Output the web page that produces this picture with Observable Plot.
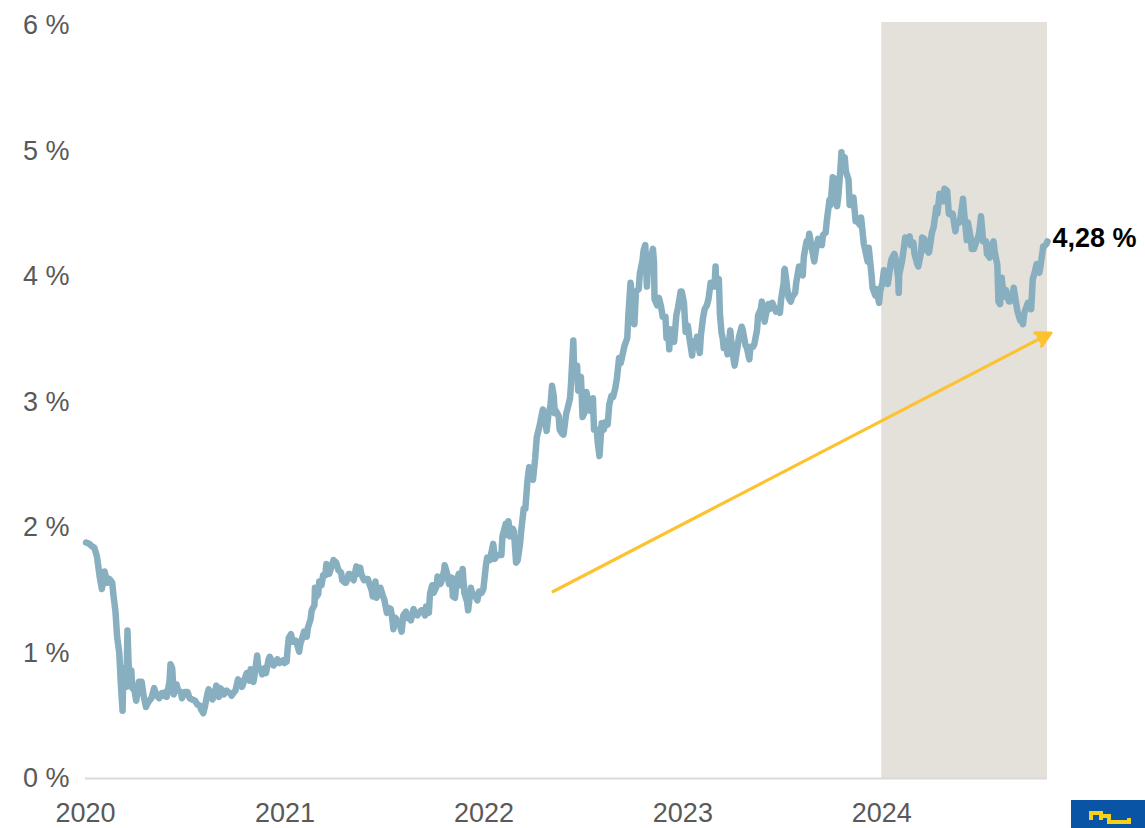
<!DOCTYPE html>
<html><head><meta charset="utf-8">
<script src="https://cdn.jsdelivr.net/npm/d3@7"></script>
<script src="https://cdn.jsdelivr.net/npm/@observablehq/plot@0.6"></script>
<style>
body{margin:0;background:#fff;}
#chart{position:relative;width:1145px;height:828px;overflow:hidden;}
#logo{position:absolute;left:1071px;top:800px;width:80px;height:30px;}
</style>
</head><body><div id="chart"></div>
<script>
// US 10-year yield, % (date, value)
const y2020 = [["2020-01-02",1.88],["2020-01-08",1.87],["2020-01-13",1.85],["2020-01-17",1.84],["2020-01-22",1.77],["2020-01-27",1.61],["2020-01-31",1.51],["2020-02-05",1.65],["2020-02-10",1.56],["2020-02-14",1.59],["2020-02-19",1.56],["2020-02-21",1.47],["2020-02-25",1.33],["2020-02-28",1.13],["2020-03-03",1.00],["2020-03-06",0.74],["2020-03-09",0.54],["2020-03-10",0.76],["2020-03-12",0.88],["2020-03-16",0.73],["2020-03-18",1.18],["2020-03-20",0.92],["2020-03-23",0.76],["2020-03-25",0.86],["2020-03-27",0.72],["2020-03-31",0.70],["2020-04-03",0.62],["2020-04-08",0.77],["2020-04-13",0.77],["2020-04-17",0.65],["2020-04-21",0.57],["2020-04-24",0.60],["2020-04-29",0.63],["2020-05-01",0.64],["2020-05-06",0.72],["2020-05-08",0.69],["2020-05-13",0.65],["2020-05-15",0.64],["2020-05-20",0.68],["2020-05-22",0.66],["2020-05-27",0.69],["2020-05-29",0.65],["2020-06-03",0.77],["2020-06-05",0.91],["2020-06-08",0.88],["2020-06-11",0.67],["2020-06-16",0.75],["2020-06-19",0.70],["2020-06-24",0.69],["2020-06-26",0.64],["2020-07-01",0.69],["2020-07-06",0.69],["2020-07-10",0.64],["2020-07-15",0.63],["2020-07-20",0.62],["2020-07-24",0.59],["2020-07-29",0.58],["2020-07-31",0.55],["2020-08-04",0.52],["2020-08-07",0.57],["2020-08-12",0.68],["2020-08-14",0.71],["2020-08-19",0.68],["2020-08-21",0.63],["2020-08-26",0.69],["2020-08-28",0.74],["2020-09-02",0.65],["2020-09-04",0.72],["2020-09-09",0.70],["2020-09-11",0.67],["2020-09-16",0.70],["2020-09-18",0.69],["2020-09-23",0.68],["2020-09-25",0.66],["2020-09-30",0.69],["2020-10-02",0.70],["2020-10-07",0.79],["2020-10-09",0.78],["2020-10-14",0.73],["2020-10-16",0.75],["2020-10-21",0.82],["2020-10-23",0.84],["2020-10-28",0.78],["2020-10-30",0.87],["2020-11-04",0.77],["2020-11-06",0.82],["2020-11-11",0.98],["2020-11-13",0.89],["2020-11-18",0.87],["2020-11-20",0.83],["2020-11-25",0.88],["2020-11-27",0.84],["2020-12-02",0.95],["2020-12-04",0.97],["2020-12-09",0.93],["2020-12-11",0.90],["2020-12-16",0.93],["2020-12-18",0.95],["2020-12-22",0.92],["2020-12-28",0.94],["2020-12-31",0.92]];
const y2021 = [["2021-01-04",0.93],["2021-01-06",1.04],["2021-01-08",1.12],["2021-01-12",1.15],["2021-01-15",1.09],["2021-01-20",1.10],["2021-01-22",1.09],["2021-01-27",1.01],["2021-01-29",1.07],["2021-02-03",1.14],["2021-02-05",1.17],["2021-02-10",1.13],["2021-02-12",1.20],["2021-02-17",1.27],["2021-02-19",1.34],["2021-02-24",1.38],["2021-02-25",1.52],["2021-02-26",1.44],["2021-03-03",1.47],["2021-03-05",1.57],["2021-03-09",1.54],["2021-03-12",1.62],["2021-03-16",1.62],["2021-03-18",1.71],["2021-03-23",1.63],["2021-03-26",1.67],["2021-03-31",1.74],["2021-04-05",1.72],["2021-04-09",1.66],["2021-04-14",1.64],["2021-04-16",1.58],["2021-04-21",1.56],["2021-04-23",1.56],["2021-04-28",1.63],["2021-04-30",1.63],["2021-05-05",1.59],["2021-05-07",1.58],["2021-05-12",1.69],["2021-05-14",1.63],["2021-05-19",1.68],["2021-05-21",1.63],["2021-05-26",1.58],["2021-05-28",1.59],["2021-06-02",1.59],["2021-06-04",1.56],["2021-06-09",1.50],["2021-06-11",1.45],["2021-06-16",1.57],["2021-06-18",1.44],["2021-06-23",1.48],["2021-06-25",1.52],["2021-06-30",1.45],["2021-07-02",1.43],["2021-07-07",1.32],["2021-07-09",1.36],["2021-07-14",1.35],["2021-07-16",1.30],["2021-07-19",1.19],["2021-07-23",1.28],["2021-07-28",1.23],["2021-07-30",1.24],["2021-08-03",1.17],["2021-08-06",1.30],["2021-08-11",1.33],["2021-08-13",1.28],["2021-08-18",1.27],["2021-08-20",1.26],["2021-08-25",1.35],["2021-08-27",1.31],["2021-09-01",1.30],["2021-09-03",1.32],["2021-09-08",1.34],["2021-09-10",1.34],["2021-09-15",1.30],["2021-09-17",1.37],["2021-09-22",1.32],["2021-09-24",1.47],["2021-09-28",1.54],["2021-10-01",1.48],["2021-10-06",1.53],["2021-10-08",1.61],["2021-10-13",1.55],["2021-10-15",1.57],["2021-10-20",1.66],["2021-10-21",1.70],["2021-10-25",1.64],["2021-10-29",1.55],["2021-11-03",1.60],["2021-11-05",1.45],["2021-11-09",1.44],["2021-11-12",1.58],["2021-11-16",1.63],["2021-11-19",1.54],["2021-11-23",1.67],["2021-11-26",1.48],["2021-12-01",1.41],["2021-12-03",1.34],["2021-12-08",1.52],["2021-12-10",1.48],["2021-12-15",1.46],["2021-12-20",1.42],["2021-12-23",1.49],["2021-12-28",1.48],["2021-12-31",1.51]];
const y2022 = [["2022-01-03",1.63],["2022-01-05",1.71],["2022-01-07",1.76],["2022-01-12",1.74],["2022-01-18",1.87],["2022-01-21",1.75],["2022-01-25",1.78],["2022-01-28",1.78],["2022-02-02",1.78],["2022-02-04",1.93],["2022-02-10",2.03],["2022-02-11",1.94],["2022-02-15",2.05],["2022-02-18",1.93],["2022-02-23",1.99],["2022-02-25",1.97],["2022-03-01",1.72],["2022-03-04",1.74],["2022-03-08",1.86],["2022-03-11",2.00],["2022-03-15",2.15],["2022-03-18",2.15],["2022-03-22",2.38],["2022-03-25",2.48],["2022-03-29",2.40],["2022-04-01",2.38],["2022-04-05",2.55],["2022-04-08",2.72],["2022-04-12",2.79],["2022-04-14",2.83],["2022-04-19",2.94],["2022-04-22",2.90],["2022-04-26",2.77],["2022-04-29",2.89],["2022-05-03",2.97],["2022-05-06",3.13],["2022-05-09",3.05],["2022-05-11",2.91],["2022-05-13",2.93],["2022-05-18",2.89],["2022-05-20",2.78],["2022-05-24",2.75],["2022-05-27",2.74],["2022-06-01",2.91],["2022-06-03",2.94],["2022-06-08",3.03],["2022-06-10",3.16],["2022-06-14",3.49],["2022-06-16",3.20],["2022-06-17",3.23],["2022-06-21",3.29],["2022-06-23",3.09],["2022-06-24",3.13],["2022-06-28",3.20],["2022-07-01",2.88],["2022-07-06",2.93],["2022-07-08",3.08],["2022-07-13",2.96],["2022-07-15",2.93],["2022-07-20",3.03],["2022-07-22",2.78],["2022-07-27",2.78],["2022-07-29",2.67],["2022-08-01",2.57],["2022-08-05",2.83],["2022-08-09",2.78],["2022-08-12",2.84],["2022-08-16",2.82],["2022-08-19",2.98],["2022-08-23",3.05],["2022-08-26",3.04],["2022-08-30",3.11],["2022-09-02",3.19],["2022-09-06",3.35],["2022-09-09",3.31],["2022-09-14",3.41],["2022-09-16",3.45],["2022-09-21",3.51],["2022-09-23",3.69],["2022-09-27",3.95],["2022-09-30",3.83],["2022-10-04",3.62],["2022-10-07",3.88],["2022-10-12",3.90],["2022-10-14",4.02],["2022-10-19",4.13],["2022-10-21",4.21],["2022-10-24",4.25],["2022-10-27",3.92],["2022-10-28",4.01],["2022-11-02",4.10],["2022-11-04",4.16],["2022-11-07",4.22],["2022-11-09",4.12],["2022-11-10",3.82],["2022-11-15",3.77],["2022-11-18",3.83],["2022-11-22",3.76],["2022-11-25",3.68],["2022-11-30",3.68],["2022-12-02",3.51],["2022-12-06",3.51],["2022-12-07",3.42],["2022-12-09",3.58],["2022-12-13",3.50],["2022-12-16",3.48],["2022-12-20",3.69],["2022-12-23",3.75],["2022-12-28",3.88],["2022-12-30",3.88]];
const y2023 = [["2023-01-03",3.79],["2023-01-06",3.56],["2023-01-10",3.61],["2023-01-13",3.51],["2023-01-18",3.37],["2023-01-20",3.48],["2023-01-25",3.46],["2023-01-27",3.52],["2023-02-01",3.39],["2023-02-03",3.53],["2023-02-07",3.67],["2023-02-10",3.74],["2023-02-14",3.77],["2023-02-17",3.82],["2023-02-21",3.95],["2023-02-24",3.95],["2023-02-28",3.92],["2023-03-02",4.08],["2023-03-03",3.95],["2023-03-08",3.98],["2023-03-10",3.70],["2023-03-13",3.55],["2023-03-15",3.51],["2023-03-17",3.43],["2023-03-22",3.44],["2023-03-24",3.38],["2023-03-29",3.57],["2023-03-31",3.48],["2023-04-05",3.31],["2023-04-06",3.29],["2023-04-11",3.43],["2023-04-14",3.52],["2023-04-19",3.60],["2023-04-21",3.57],["2023-04-26",3.45],["2023-04-28",3.44],["2023-05-03",3.34],["2023-05-05",3.44],["2023-05-10",3.44],["2023-05-12",3.46],["2023-05-17",3.57],["2023-05-19",3.69],["2023-05-24",3.74],["2023-05-26",3.80],["2023-05-31",3.64],["2023-06-02",3.69],["2023-06-07",3.78],["2023-06-09",3.74],["2023-06-14",3.79],["2023-06-16",3.77],["2023-06-21",3.72],["2023-06-23",3.74],["2023-06-28",3.71],["2023-06-30",3.81],["2023-07-05",3.95],["2023-07-06",4.05],["2023-07-07",4.06],["2023-07-12",3.89],["2023-07-14",3.83],["2023-07-18",3.80],["2023-07-21",3.84],["2023-07-26",3.87],["2023-07-28",3.95],["2023-08-02",4.08],["2023-08-04",4.03],["2023-08-09",4.01],["2023-08-11",4.16],["2023-08-16",4.28],["2023-08-18",4.25],["2023-08-21",4.34],["2023-08-25",4.24],["2023-08-30",4.12],["2023-09-01",4.18],["2023-09-06",4.30],["2023-09-08",4.26],["2023-09-13",4.25],["2023-09-15",4.33],["2023-09-20",4.35],["2023-09-22",4.44],["2023-09-27",4.61],["2023-09-29",4.57],["2023-10-03",4.79],["2023-10-06",4.78],["2023-10-11",4.56],["2023-10-13",4.63],["2023-10-17",4.85],["2023-10-19",4.99],["2023-10-20",4.91],["2023-10-23",4.86],["2023-10-25",4.95],["2023-10-27",4.84],["2023-11-01",4.77],["2023-11-03",4.57],["2023-11-07",4.57],["2023-11-10",4.63],["2023-11-14",4.44],["2023-11-17",4.44],["2023-11-22",4.41],["2023-11-24",4.47],["2023-11-29",4.26],["2023-12-01",4.22],["2023-12-06",4.12],["2023-12-08",4.23],["2023-12-13",4.02],["2023-12-15",3.91],["2023-12-20",3.85],["2023-12-22",3.90],["2023-12-27",3.79],["2023-12-29",3.88]];
const y2024 = [["2024-01-02",3.95],["2024-01-05",4.05],["2024-01-09",4.02],["2024-01-12",3.94],["2024-01-17",4.10],["2024-01-19",4.14],["2024-01-24",4.18],["2024-01-26",4.15],["2024-01-31",3.99],["2024-02-01",3.87],["2024-02-02",4.02],["2024-02-07",4.12],["2024-02-09",4.18],["2024-02-13",4.31],["2024-02-16",4.28],["2024-02-21",4.32],["2024-02-23",4.25],["2024-02-28",4.27],["2024-03-01",4.18],["2024-03-06",4.10],["2024-03-08",4.08],["2024-03-13",4.19],["2024-03-15",4.31],["2024-03-19",4.30],["2024-03-22",4.22],["2024-03-27",4.19],["2024-03-28",4.20],["2024-04-02",4.35],["2024-04-05",4.39],["2024-04-10",4.55],["2024-04-12",4.50],["2024-04-16",4.66],["2024-04-19",4.62],["2024-04-23",4.60],["2024-04-25",4.70],["2024-04-30",4.68],["2024-05-03",4.50],["2024-05-08",4.49],["2024-05-10",4.50],["2024-05-15",4.36],["2024-05-17",4.42],["2024-05-22",4.43],["2024-05-24",4.46],["2024-05-29",4.62],["2024-05-31",4.51],["2024-06-05",4.29],["2024-06-07",4.43],["2024-06-12",4.31],["2024-06-14",4.22],["2024-06-18",4.22],["2024-06-21",4.26],["2024-06-26",4.32],["2024-06-28",4.36],["2024-07-01",4.48],["2024-07-05",4.28],["2024-07-10",4.28],["2024-07-12",4.18],["2024-07-17",4.15],["2024-07-19",4.24],["2024-07-24",4.28],["2024-07-26",4.20],["2024-07-31",4.09],["2024-08-02",3.80],["2024-08-05",3.78],["2024-08-08",3.99],["2024-08-09",3.94],["2024-08-14",3.84],["2024-08-16",3.89],["2024-08-21",3.80],["2024-08-23",3.80],["2024-08-28",3.84],["2024-08-30",3.91],["2024-09-04",3.77],["2024-09-06",3.72],["2024-09-11",3.65],["2024-09-13",3.66],["2024-09-16",3.62],["2024-09-18",3.70],["2024-09-20",3.73],["2024-09-25",3.79],["2024-09-27",3.75],["2024-10-01",3.74],["2024-10-04",3.98],["2024-10-08",4.04],["2024-10-11",4.10],["2024-10-16",4.03],["2024-10-18",4.08],["2024-10-22",4.20],["2024-10-23",4.24],["2024-10-25",4.24],["2024-10-29",4.26],["2024-10-31",4.28]];

const yTicks = [0, 1, 2, 3, 4, 5, 6];
const xTickDates = ["2020-01-01", "2021-01-01", "2022-01-01", "2023-01-01", "2024-01-01"];
const xDomainDates = ["2020-01-01", "2024-10-31"];
const shadeStart = ["2024-01-01"];
const shadeEnd = ["2024-10-31"];
const shadeTop = [6];
const arrowStart = ["2022-05-08", 1.49];
const arrowEnd = ["2024-11-06", 3.55];
const endLabel = ["4,28 %"];

const parse = s => new Date(s + "T00:00:00Z");
const series = [...y2020, ...y2021, ...y2022, ...y2023, ...y2024].map(([d, v]) => ({date: parse(d), value: v}));
const last = series[series.length - 1];
const shade = shadeStart.map((s, i) => ({x1: parse(s), x2: parse(shadeEnd[i]), y2: shadeTop[i]}));
const arrow = [{x1: parse(arrowStart[0]), y1: arrowStart[1], x2: parse(arrowEnd[0]), y2: arrowEnd[1]}];

const FONT = "'Liberation Sans', Arial, sans-serif";

const chart = Plot.plot({
  width: 1145,
  height: 828,
  marginLeft: 85,
  marginRight: 98,
  marginTop: 25,
  marginBottom: 50,
  style: {fontFamily: FONT, background: "#fff", overflow: "visible"},
  x: {type: "utc", domain: xDomainDates.map(parse)},
  y: {domain: [0, 6]},
  marks: [
    Plot.rectY(shade, {x1: "x1", x2: "x2", y1: 0, y2: "y2", fill: "#E4E0DA", insetTop: -3}),
    Plot.ruleY([0], {stroke: "#D9D9D9", strokeWidth: 2}),
    Plot.lineY(series, {x: "date", y: "value", stroke: "#88AFC0", strokeWidth: 6.5, strokeLinejoin: "round", strokeLinecap: "round"}),
    Plot.arrow(arrow, {x1: "x1", y1: "y1", x2: "x2", y2: "y2", stroke: "#FDC22F", fill: "#FDC22F", strokeWidth: 3.2, headLength: 7.5, headAngle: 55}),
    Plot.text([last], {x: "date", y: "value", text: () => endLabel[0], textAnchor: "start", dx: 5, dy: -3, fontSize: 27, fontWeight: "bold", fill: "#000"}),
    Plot.axisY(yTicks, {tickSize: 0, tickPadding: 16, tickFormat: d => d + " %", fontSize: 27, fill: "#595959", label: null}),
    Plot.axisX(xTickDates.map(parse), {tickSize: 0, tickPadding: 24, tickFormat: d3.utcFormat("%Y"), fontSize: 27, fill: "#595959", label: null})
  ]
});
document.getElementById("chart").appendChild(chart);

const logo = document.createElement("div");
logo.id = "logo";
logo.innerHTML = '<svg width="80" height="30"><rect x="0" y="0" width="80" height="30" fill="#0A54A5"/><path d="M20 20 V13 H30 V20 M30 16 H38 V22 H58 V18" stroke="#F7D117" stroke-width="4" fill="none"/></svg>';
document.getElementById("chart").appendChild(logo);
</script>
</body></html>
